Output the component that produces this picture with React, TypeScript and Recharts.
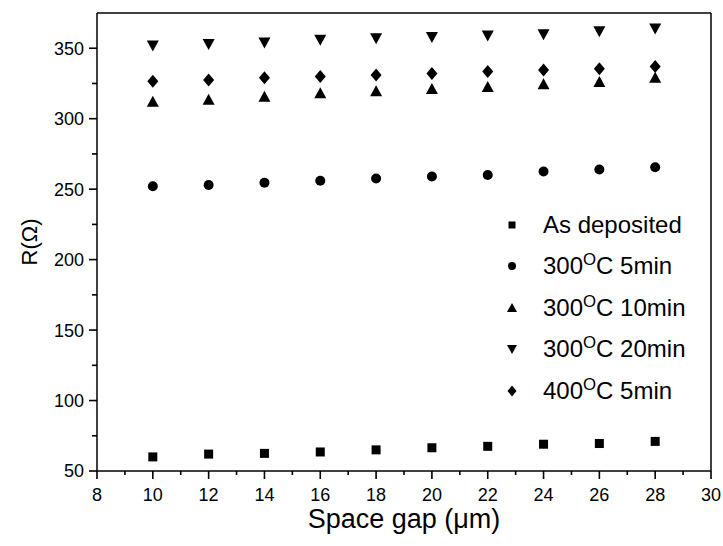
import { ScatterChart, Scatter, XAxis, YAxis, Label } from "recharts"

const gaps = [10, 12, 14, 16, 18, 20, 22, 24, 26, 28]
const asDeposited = [60, 62, 62.5, 63.5, 65, 66.5, 67.5, 69, 69.5, 71]
const c300m5 = [252, 253, 254.5, 256, 257.5, 259, 260, 262.5, 264, 265.5]
const c300m10 = [312, 313.5, 315.5, 318, 319.5, 321, 322.5, 324.5, 326, 329]
const c300m20 = [352, 353, 354, 356, 357, 358, 359, 360, 362, 364]
const c400m5 = [326.5, 327.5, 329, 330, 331, 332, 333.5, 334.5, 335.5, 337]

const xTicks = [8, 9, 10, 11, 12, 13, 14, 15, 16, 17, 18, 19, 20, 21, 22, 23, 24, 25, 26, 27, 28, 29, 30]
const xLabels = [8, 10, 12, 14, 16, 18, 20, 22, 24, 26, 28, 30]
const yTicks = [50, 75, 100, 125, 150, 175, 200, 225, 250, 275, 300, 325, 350]
const yLabels = [50, 100, 150, 200, 250, 300, 350]

const FONT = '"Liberation Sans", Arial, Helvetica, sans-serif'
const INK = "#000"
const AXIS = { stroke: INK, strokeWidth: 1.5 }

const toPoints = (vals: number[]) => gaps.map((g, i) => ({ x: g, y: vals[i] }))

type ShapeProps = { cx?: number; cy?: number }

const Square = ({ cx = 0, cy = 0 }: ShapeProps) => <rect x={cx - 4.5} y={cy - 4.5} width={9} height={9} fill={INK} />
const Dot = ({ cx = 0, cy = 0 }: ShapeProps) => <circle cx={cx} cy={cy} r={5} fill={INK} />
const TriUp = ({ cx = 0, cy = 0 }: ShapeProps) => (
  <polygon points={`${cx},${cy - 6} ${cx + 6},${cy + 5} ${cx - 6},${cy + 5}`} fill={INK} />
)
const TriDown = ({ cx = 0, cy = 0 }: ShapeProps) => (
  <polygon points={`${cx - 6},${cy - 5} ${cx + 6},${cy - 5} ${cx},${cy + 6}`} fill={INK} />
)
const Diamond = ({ cx = 0, cy = 0 }: ShapeProps) => (
  <polygon points={`${cx},${cy - 6.5} ${cx + 5.5},${cy} ${cx},${cy + 6.5} ${cx - 5.5},${cy}`} fill={INK} />
)

// tick marks drawn as small filled rects, labels only on the major ticks
function XTick({ x, y, payload }: any) {
  const major = xLabels.includes(payload.value)
  const len = major ? 8 : 4
  return (
    <g>
      <rect x={x - 0.8} y={y} width={1.6} height={len} fill={INK} />
      {major && (
        <text x={x} y={y + 30} textAnchor="middle" fontSize={18} fontFamily={FONT} fill={INK}>
          {payload.value}
        </text>
      )}
    </g>
  )
}

function YTick({ x, y, payload }: any) {
  const major = yLabels.includes(payload.value)
  const len = major ? 8 : 5
  return (
    <g>
      <rect x={x - len} y={y - 0.8} width={len} height={1.6} fill={INK} />
      {major && (
        <text x={x - 13} y={y} dy="0.36em" textAnchor="end" fontSize={18} fontFamily={FONT} fill={INK}>
          {payload.value}
        </text>
      )}
    </g>
  )
}

const legendItems = [
  { icon: "square", pre: "As deposited", sup: "", post: "" },
  { icon: "dot", pre: "300", sup: "O", post: "C 5min" },
  { icon: "up", pre: "300", sup: "O", post: "C 10min" },
  { icon: "down", pre: "300", sup: "O", post: "C 20min" },
  { icon: "diamond", pre: "400", sup: "O", post: "C 5min" },
]

function LegendIcon({ kind }: { kind: string }) {
  return (
    <svg width={20} height={20} style={{ display: "block" }}>
      {kind === "square" && <rect x={6.5} y={6.5} width={7} height={7} fill={INK} />}
      {kind === "dot" && <circle cx={10} cy={10} r={4} fill={INK} />}
      {kind === "up" && <polygon points="10,5 15,14 5,14" fill={INK} />}
      {kind === "down" && <polygon points="5,6 15,6 10,15" fill={INK} />}
      {kind === "diamond" && <polygon points="10,4.5 14.5,10 10,15.5 5.5,10" fill={INK} />}
    </svg>
  )
}

function LegendBox() {
  return (
    <div style={{ position: "absolute", left: 502, top: 204, fontFamily: FONT, fontSize: 24, color: INK }}>
      {legendItems.map((it) => (
        <div key={it.pre + it.post} style={{ display: "flex", alignItems: "center", height: 41.5 }}>
          <div style={{ width: 41 }}>
            <LegendIcon kind={it.icon} />
          </div>
          <span style={{ whiteSpace: "nowrap" }}>
            {it.pre}
            {it.sup && <sup style={{ fontSize: "0.7em", lineHeight: 0 }}>{it.sup}</sup>}
            {it.post}
          </span>
        </div>
      ))}
    </div>
  )
}

export default function App() {
  return (
    <div style={{ position: "absolute", left: 0, top: 0, width: 723, height: 546, background: "#fff" }}>
      <ScatterChart width={723} height={546} margin={{ top: 12, right: 11, bottom: 74, left: 96 }}>
        <XAxis
          dataKey="x"
          type="number"
          domain={[8, 30]}
          ticks={xTicks}
          interval={0}
          height={1}
          tickSize={0}
          tickMargin={0}
          tickLine={false}
          tick={<XTick />}
          axisLine={AXIS}
        >
          <Label
            content={({ viewBox }: any) => (
              <text
                x={viewBox.x + viewBox.width / 2}
                y={viewBox.y + 57}
                textAnchor="middle"
                fontSize={27}
                fontFamily={FONT}
                fill={INK}
              >
                Space gap (μm)
              </text>
            )}
          />
        </XAxis>
        <XAxis xAxisId="top" orientation="top" type="number" domain={[8, 30]} height={1} tick={false} tickLine={false} axisLine={AXIS} />
        <YAxis
          dataKey="y"
          type="number"
          domain={[50, 375]}
          ticks={yTicks}
          interval={0}
          width={1}
          tickSize={0}
          tickMargin={0}
          tickLine={false}
          tick={<YTick />}
          axisLine={AXIS}
        >
          <Label
            content={({ viewBox }: any) => {
              const cx = 29
              const cy = viewBox.y + viewBox.height / 2
              return (
                <text x={cx} y={cy} transform={`rotate(-90 ${cx} ${cy})`} textAnchor="middle" dy="0.36em" fontSize={22} fontFamily={FONT} fill={INK}>
                  R(Ω)
                </text>
              )
            }}
          />
        </YAxis>
        <YAxis yAxisId="right" orientation="right" type="number" domain={[50, 375]} width={1} tick={false} tickLine={false} axisLine={AXIS} />
        <Scatter name="As deposited" data={toPoints(asDeposited)} shape={Square} isAnimationActive={false} />
        <Scatter name="300C 5min" data={toPoints(c300m5)} shape={Dot} isAnimationActive={false} />
        <Scatter name="300C 10min" data={toPoints(c300m10)} shape={TriUp} isAnimationActive={false} />
        <Scatter name="300C 20min" data={toPoints(c300m20)} shape={TriDown} isAnimationActive={false} />
        <Scatter name="400C 5min" data={toPoints(c400m5)} shape={Diamond} isAnimationActive={false} />
      </ScatterChart>
      <LegendBox />
    </div>
  )
}
